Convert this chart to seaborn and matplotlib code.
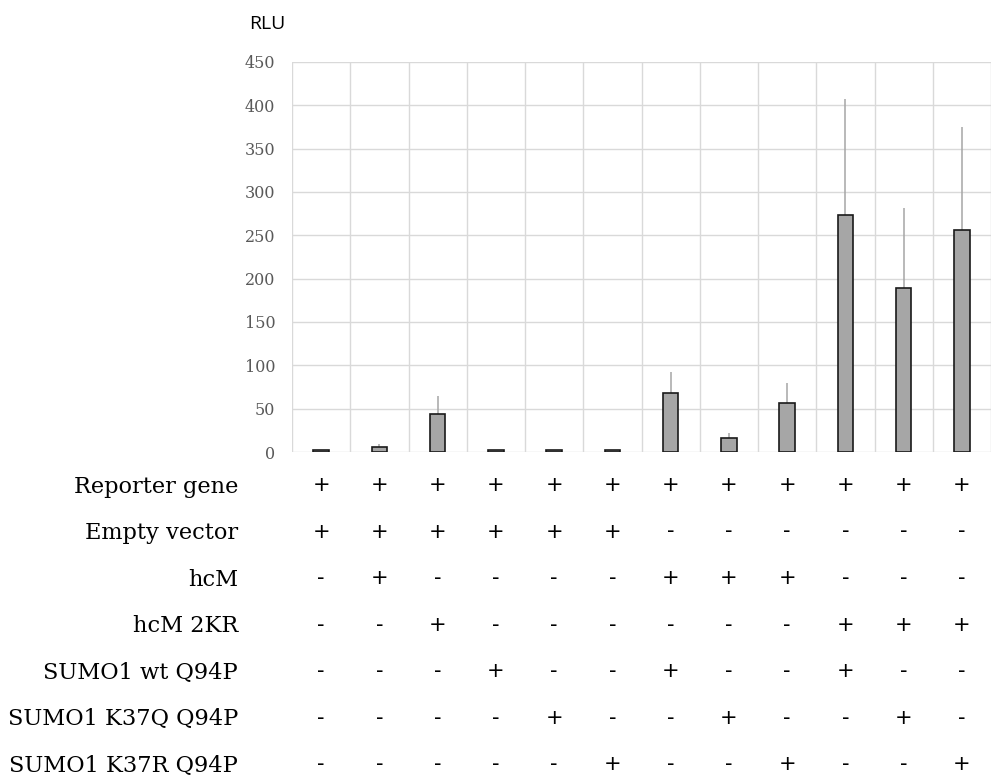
"""
Reporter assay: RLU per transfection condition, with the condition table under the bars.
"""

import numpy as np
import pandas as pd
import matplotlib
matplotlib.use("Agg")
import matplotlib.pyplot as plt
import seaborn as sns

# bar heights and upper error (mean + SD top)
rlu_mean = [2, 6, 44, 2, 2, 2, 68, 16.5, 56, 274, 189, 256.5]
rlu_err = [0, 3, 21, 0, 0, 0, 24, 6, 24, 133, 93, 118]

row_labels = ["Reporter gene", "Empty vector", "hcM", "hcM 2KR",
              "SUMO1 wt Q94P", "SUMO1 K37Q Q94P", "SUMO1 K37R Q94P"]
reporter = "++++++++++++"
empty_vec = "++++++------"
hcm = "-+----+++---"
hcm_2kr = "--+------+++"
sumo_wt = "---+--+--+--"
sumo_k37q = "----+--+--+-"
sumo_k37r = "-----+--+--+"
conditions = [reporter, empty_vec, hcm, hcm_2kr, sumo_wt, sumo_k37q, sumo_k37r]

yticks = np.arange(0, 451, 50)

df = pd.DataFrame({"sample": [str(i + 1) for i in range(len(rlu_mean))],
                   "rlu": rlu_mean})

sns.set_style("white")
fig = plt.figure(figsize=(9.91, 7.76), dpi=100)
ax = fig.add_axes([292 / 991, 1 - 452 / 776, 1 - 292 / 991, 390 / 776])

sns.barplot(data=df, x="sample", y="rlu", ax=ax, color="#a6a6a6",
            edgecolor="#1a1a1a", linewidth=1.2, width=0.27,
            saturation=1, errorbar=None, zorder=3)

pos = np.arange(len(rlu_mean))
ax.errorbar(pos, rlu_mean, yerr=[np.zeros(len(rlu_err)), rlu_err],
            fmt="none", ecolor="#a6a6a6", elinewidth=1.1, capsize=0, zorder=2)

ax.set_ylim(0, 450)
ax.set_xlim(-0.5, -0.5 + (991 - 292) / 58.9)
ax.set_yticks(yticks)
ax.set_yticklabels([str(t) for t in yticks], family="DejaVu Serif",
                   fontsize=11.5, color="#595959")
ax.set_xticks([])
ax.set_xticks(np.arange(-0.5, len(rlu_mean), 1.0), minor=True)
ax.tick_params(axis="both", which="both", length=0, pad=12)
ax.grid(axis="y", color="#d9d9d9", linewidth=1, zorder=0)
ax.grid(axis="x", which="minor", color="#d9d9d9", linewidth=1, zorder=0)
ax.set_axisbelow(True)
for s in ax.spines.values():
    s.set_visible(False)
ax.set_xlabel("")
ax.set_ylabel("")

ax.text(-0.0615, 1.074, "RLU", transform=ax.transAxes, fontsize=14,
        family="Open Sans", color="black", ha="left", va="bottom")

# condition table under the plot
row_y0 = -33 / 390
row_step = 46.5 / 390
trans = matplotlib.transforms.blended_transform_factory(ax.transData, ax.transAxes)
for r, (label, signs) in enumerate(zip(row_labels, conditions)):
    y = row_y0 - r * row_step
    ax.text(238 / 991, 1 - (487 + r * 46.5) / 776, label, transform=fig.transFigure,
            ha="right", va="center", fontsize=16.2, family="DejaVu Serif",
            color="black")
    for i, s in enumerate(signs):
        ax.text(i, y, s, transform=trans, ha="center", va="center",
                fontsize=15, family="DejaVu Sans", color="black", clip_on=False)

plt.savefig("out.png", dpi=100)
plt.close()
